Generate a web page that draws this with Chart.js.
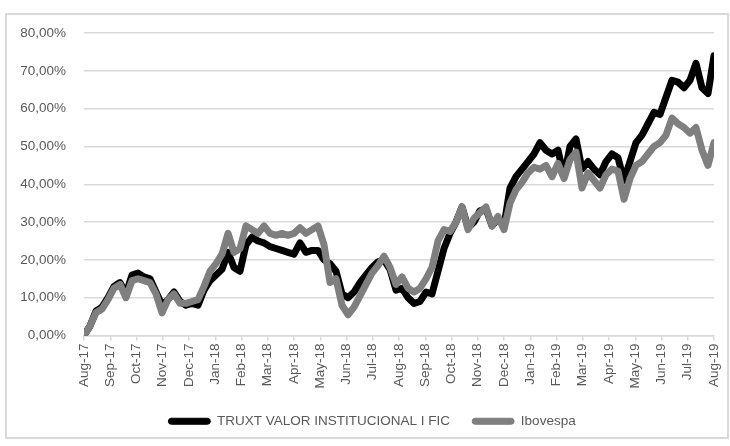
<!DOCTYPE html>
<html>
<head>
<meta charset="utf-8">
<script src="https://cdn.jsdelivr.net/npm/chart.js@4.4.1/dist/chart.umd.min.js"></script>
<style>
  html, body { margin: 0; padding: 0; background: #fff; }
  #wrap { position: relative; width: 730px; height: 446px; }
  #frame { position: absolute; left: 5px; top: 13px; width: 720px; height: 422px; border: 2px solid #d9d9d9; }
  canvas { position: absolute; left: 0; top: 0; }
</style>
</head>
<body>
<div id="wrap">
  <div id="frame"></div>
  <canvas id="myChart" width="730" height="446"></canvas>
</div>
<script>
// month labels on the time axis
var months = ['Aug-17','Sep-17','Oct-17','Nov-17','Dec-17','Jan-18','Feb-18','Mar-18','Apr-18','May-18',
    'Jun-18','Jul-18','Aug-18','Sep-18','Oct-18','Nov-18','Dec-18','Jan-19','Feb-19','Mar-19',
    'Apr-19','May-19','Jun-19','Jul-19','Aug-19'];

// weekly readings, cumulative return in %
var truxt = [0, 2.5, 6.5, 7.5, 10, 13, 14, 11, 16, 16.5,
    15.5, 15, 11.5, 8, 9.5, 11.5, 9, 8, 8.5, 8,
    12, 14.5, 16, 17.5, 22, 18, 17, 24, 26, 25,
    24.5, 23.5, 23, 22.5, 22, 21.5, 24.5, 22, 22.5, 22.5,
    20, 19, 17, 11, 10, 11.5, 14, 16, 18, 19.5,
    20, 17.5, 12, 12.5, 10, 8.5, 9, 11.5, 11, 17,
    23, 27, 30, 34, 28.5, 30, 33, 33.5, 29, 31,
    29, 39, 42, 44, 46, 48, 51, 49, 48, 49,
    42, 50, 52, 44, 46, 44, 42.5, 46, 48, 47,
    41, 46, 51, 53, 56, 59, 58.5, 63, 67.5, 67,
    65.5, 67.5, 72, 65.5, 64, 74];

var ibovespa = [0, 2.5, 6, 7, 9.5, 12.5, 13.5, 10, 14.5, 15,
    14.5, 14, 11, 6, 9.5, 11, 8.5, 8.5, 9, 9.5,
    13, 17, 19, 21.5, 27, 22, 23, 29, 28, 27,
    29, 27, 26.5, 27, 26.5, 27, 28.5, 27, 28, 29,
    24, 14, 15, 8, 5.5, 7.5, 10.5, 13.5, 16.5, 18.5,
    21, 18, 13.5, 15.5, 12.5, 11.5, 12.5, 15, 18, 25,
    28, 27.5, 30, 34, 28, 31, 32.5, 34, 29, 31.5,
    28, 35, 38.5, 40.5, 43, 44.5, 44, 45, 42, 45.5,
    41.5, 46.5, 48.5, 39, 43, 41, 39, 42.5, 44, 43.5,
    36, 41.5, 45, 46, 48, 50, 51, 53, 57.5, 56,
    55, 53.5, 55, 49, 45, 51];

// spread the weekly readings evenly over the 24 months
function toPoints(values) {
    return values.map(function (v, i) {
        return { x: i * (months.length - 1) / (values.length - 1), y: v };
    });
}

var textColor = '#595959';
var gridColor = '#d9d9d9';
Chart.defaults.font.family = "'Liberation Sans', Arial, sans-serif";
Chart.defaults.font.size = 13.5;
Chart.defaults.color = textColor;

// nudge the legend a bit to the right, like the original
var legendShift = {
    id: 'legendShift',
    afterLayout: function (chart) {
        chart.legend.left += 15;
        chart.legend.right += 15;
    }
};

var ctx = document.getElementById('myChart').getContext('2d');
var myChart = new Chart(ctx, {
    type: 'line',
    data: {
        datasets: [{
            label: 'Ibovespa',
            data: toPoints(ibovespa),
            borderColor: '#7f7f7f',
            backgroundColor: '#7f7f7f',
            borderWidth: 7,
            order: 0
        }, {
            label: 'TRUXT VALOR INSTITUCIONAL I FIC',
            data: toPoints(truxt),
            borderColor: '#000000',
            backgroundColor: '#000000',
            borderWidth: 7,
            order: 1
        }]
    },
    plugins: [legendShift],
    options: {
        responsive: false,
        animation: false,
        layout: { padding: { top: 33, right: 16, left: 0, bottom: 8 } },
        elements: {
            point: { radius: 0 },
            line: { tension: 0, borderJoinStyle: 'round', borderCapStyle: 'round' }
        },
        plugins: {
            tooltip: { enabled: false },
            legend: {
                position: 'bottom',
                labels: {
                    boxWidth: 42,
                    boxHeight: 6,
                    useBorderRadius: true,
                    borderRadius: 3,
                    padding: 22,
                    color: textColor,
                    sort: function (a, b) { return b.datasetIndex - a.datasetIndex; },
                    generateLabels: function (chart) {
                        var items = Chart.defaults.plugins.legend.labels.generateLabels(chart);
                        items.forEach(function (item) { item.lineWidth = 1; });
                        return items;
                    }
                }
            }
        },
        scales: {
            x: {
                type: 'linear',
                min: 0,
                max: months.length - 1,
                afterFit: function (scale) {
                    scale.height = 57;
                    scale.paddingLeft = 0;
                    scale.paddingRight = 0;
                },
                ticks: {
                    stepSize: 1,
                    autoSkip: false,
                    maxRotation: 90,
                    minRotation: 90,
                    padding: 3,
                    callback: function (value) { return months[value]; }
                },
                grid: { drawOnChartArea: false, drawTicks: true, tickLength: 5, color: gridColor, lineWidth: 1.5 },
                border: { color: gridColor, width: 1.5 }
            },
            y: {
                min: 0,
                max: 80,
                afterFit: function (scale) { scale.width = 84; },
                ticks: {
                    stepSize: 10,
                    padding: 18,
                    callback: function (value) { return value.toFixed(2).replace('.', ',') + '%'; }
                },
                grid: { color: gridColor, lineWidth: 1.5, drawTicks: false },
                border: { display: false }
            }
        }
    }
});
</script>
</body>
</html>
